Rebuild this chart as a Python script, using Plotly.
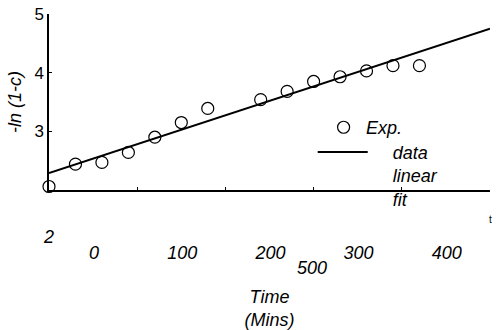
import plotly.graph_objects as go

# Data
time_min = [0, 30, 60, 90, 120, 150, 180, 240, 270, 300, 330, 360, 390, 420]
neg_ln = [2.06, 2.44, 2.47, 2.64, 2.90, 3.15, 3.39, 3.54, 3.68, 3.85, 3.93, 4.03, 4.12, 4.12]
fit_x = [0, 500]
fit_y = [2.29, 4.75]
x_ticks = [0, 100, 200, 300, 400]
y_ticks = [3, 4, 5]

FONT = "Liberation Sans, Arial, sans-serif"
PAD = "\u00a0" * 4

fig = go.Figure()
fig.add_trace(go.Scatter(
    x=time_min, y=neg_ln, mode="markers", name="Exp.",
    marker=dict(symbol="circle-open", size=12, color="black", line=dict(width=1.2, color="black")),
    legend="legend", cliponaxis=False,
))
fig.add_trace(go.Scatter(
    x=fit_x, y=fit_y, mode="lines",
    name="<br>".join(PAD + w for w in ["data", "linear", "fit"]),
    line=dict(color="black", width=2), legend="legend2",
))

fig.update_layout(
    width=500, height=330,
    margin=dict(l=49, r=10, t=14, b=140, autoexpand=False),
    paper_bgcolor="white", plot_bgcolor="white",
    font=dict(family=FONT, size=18, color="black"),
    showlegend=True,
    legend=dict(x=0.617, y=0.46, xanchor="left", yanchor="top", bgcolor="rgba(0,0,0,0)",
                itemwidth=35, font=dict(family=FONT, size=18, style="italic"), valign="top"),
    legend2=dict(x=0.598, y=0.32, xanchor="left", yanchor="top", bgcolor="rgba(0,0,0,0)",
                 itemwidth=50, font=dict(family=FONT, size=18, style="italic"), valign="top"),
    xaxis=dict(
        range=[0, 500], tickvals=x_ticks, ticktext=[str(v) for v in x_ticks],
        ticks="inside", ticklen=3, tickcolor="black", showline=True, linecolor="black", linewidth=1.5,
        showgrid=False, zeroline=False, automargin=False,
        tickfont=dict(family=FONT, size=18, style="italic"),
        ticklabelshift=45, ticklabelstandoff=46,
        title=dict(text="Time<br>(Mins)", font=dict(family=FONT, size=18, style="italic"), standoff=30),
    ),
    yaxis=dict(
        range=[2, 5], tickvals=y_ticks, ticktext=[str(v) for v in y_ticks],
        ticks="inside", ticklen=3, tickcolor="black", showline=True, linecolor="black", linewidth=1.5,
        showgrid=False, zeroline=False, automargin=False,
        tickfont=dict(family=FONT, size=17),
        title=dict(text="-ln (1-c)", font=dict(family=FONT, size=18, style="italic"), standoff=8),
    ),
)

fig.add_annotation(text="2", xref="paper", yref="paper", x=-0.002, y=-0.267, showarrow=False,
                   xanchor="center", yanchor="middle",
                   font=dict(family=FONT, size=18, style="italic"))
fig.add_annotation(text="500", xref="paper", yref="paper", x=0.596, y=-0.443, showarrow=False,
                   xanchor="center", yanchor="middle",
                   font=dict(family=FONT, size=18, style="italic"))
fig.add_annotation(text="t", xref="paper", yref="paper", x=1.0, y=-0.17, showarrow=False,
                   xanchor="center", yanchor="middle",
                   font=dict(family=FONT, size=10))

fig.write_html("out.html", config={"displayModeBar": False},
               post_script="document.body.style.margin='0';")
